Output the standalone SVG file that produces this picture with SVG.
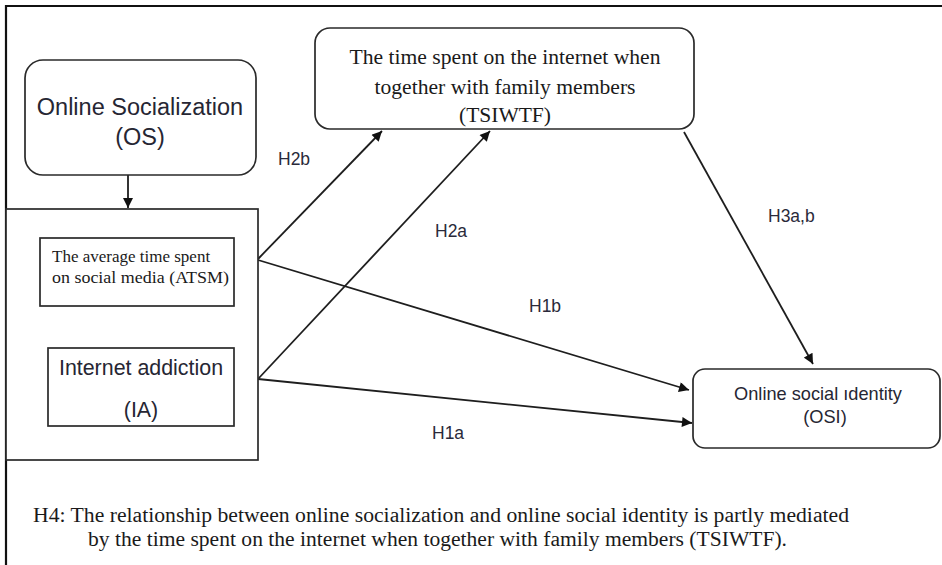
<svg xmlns="http://www.w3.org/2000/svg" width="942" height="565" viewBox="0 0 942 565">
<style>
.box{fill:#fff;stroke:#2a2a2a;stroke-width:1.7}
.frame{fill:none;stroke:#111;stroke-width:2.2}
.edge{fill:none;stroke:#1e1e1e;stroke-width:1.8}
.sans{font-family:"Liberation Sans",Arial,sans-serif;fill:#262633}
.serif{font-family:"Liberation Serif","Times New Roman",serif;fill:#1a1a1a}
.lbl{font-family:"Liberation Sans",Arial,sans-serif;font-size:17.5px;fill:#2a2a3a}
</style>
<defs>
<marker id="ah" viewBox="0 0 10 10" refX="10" refY="5" markerWidth="12" markerHeight="10" markerUnits="userSpaceOnUse" orient="auto">
<path d="M0,0 L10,5 L0,10 z" fill="#111"/>
</marker>
</defs>
<rect width="942" height="565" fill="#fff"/>
<g id="frame">
<path class="frame" d="M6,565 L6,6 L942,6"/>
</g>
<g id="connectors">
<line class="edge" x1="128" y1="175" x2="128" y2="208" marker-end="url(#ah)"/>
<line class="edge" x1="258" y1="259" x2="382" y2="131" marker-end="url(#ah)"/>
<line class="edge" x1="258" y1="379" x2="490" y2="131" marker-end="url(#ah)"/>
<line class="edge" x1="684" y1="132" x2="813" y2="364" marker-end="url(#ah)"/>
<line class="edge" x1="258" y1="260" x2="689" y2="390" marker-end="url(#ah)"/>
<line class="edge" x1="258" y1="379" x2="692" y2="423" marker-end="url(#ah)"/>
<text class="lbl" x="278" y="165">H2b</text>
<text class="lbl" x="435" y="237">H2a</text>
<text class="lbl" x="768" y="222">H3a,b</text>
<text class="lbl" x="529" y="312">H1b</text>
<text class="lbl" x="432" y="439">H1a</text>
</g>
<g id="OS">
<rect class="box" x="25" y="60" width="231" height="115" rx="18"/>
<text class="sans" font-size="23.5" x="140" y="115" text-anchor="middle">Online Socialization</text>
<text class="sans" font-size="23.5" x="140" y="145" text-anchor="middle">(OS)</text>
</g>
<g id="container">
<rect class="box" x="6" y="209" width="252" height="251"/>
</g>
<g id="ATSM">
<rect class="box" x="40" y="238" width="194" height="68"/>
<text class="serif" font-size="17" x="52" y="262">The average time spent</text>
<text class="serif" font-size="17" x="52" y="283" textLength="177" lengthAdjust="spacingAndGlyphs">on social media (ATSM)</text>
</g>
<g id="IA">
<rect class="box" x="48" y="348" width="186" height="78"/>
<text class="sans" font-size="21.4" x="141" y="375" text-anchor="middle">Internet addiction</text>
<text class="sans" font-size="21.4" x="141" y="417" text-anchor="middle">(IA)</text>
</g>
<g id="TSIWTF">
<rect class="box" x="315" y="28" width="379" height="101" rx="15"/>
<text class="serif" font-size="22" x="505" y="64" text-anchor="middle" textLength="311" lengthAdjust="spacingAndGlyphs">The time spent on the internet when</text>
<text class="serif" font-size="22" x="505" y="94" text-anchor="middle" textLength="261" lengthAdjust="spacingAndGlyphs">together with family members</text>
<text class="serif" font-size="22" x="505" y="122" text-anchor="middle" textLength="92" lengthAdjust="spacingAndGlyphs">(TSIWTF)</text>
</g>
<g id="OSI">
<rect class="box" x="693" y="369" width="247" height="79" rx="12"/>
<text class="sans" font-size="18.2" x="818" y="400" text-anchor="middle">Online social ıdentity</text>
<text class="sans" font-size="18.2" x="825" y="423" text-anchor="middle">(OSI)</text>
</g>
<g id="note">
<text class="serif" font-size="20" x="33" y="522" textLength="816" lengthAdjust="spacingAndGlyphs">H4: The relationship between online socialization and online social identity is partly mediated</text>
<text class="serif" font-size="20" x="88" y="546" textLength="699" lengthAdjust="spacingAndGlyphs">by the time spent on the internet when together with family members (TSIWTF).</text>
</g>
</svg>
